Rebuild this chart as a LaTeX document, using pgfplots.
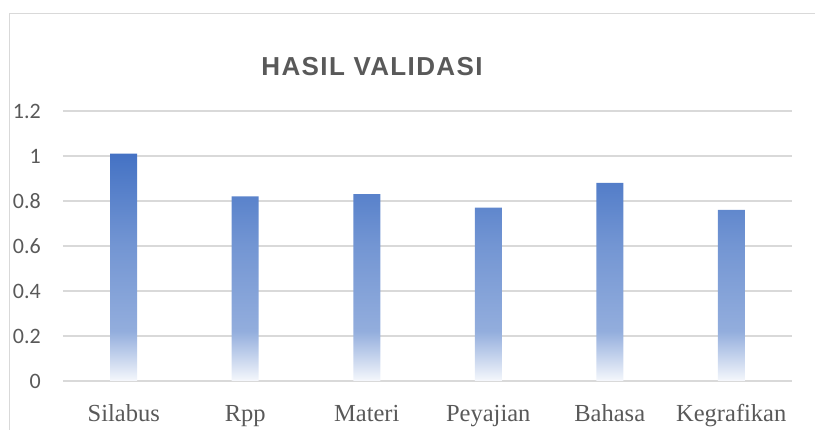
\documentclass[border=0pt]{standalone}
\usepackage{fontspec}
\usepackage{pgfplots}
\pgfplotsset{compat=1.18}
\newfontfamily\carlito{Carlito}
\newfontfamily\tnr{Liberation Serif}
\newfontfamily\titlefont[LetterSpace=5.3]{Liberation Sans}
\definecolor{txtgray}{HTML}{595959}
\definecolor{gridgray}{HTML}{D9D9D9}
\definecolor{barblue}{HTML}{4472C4}
\pgfdeclareverticalshading{barshade}{100bp}{%
  color(0bp)=(white);
  color(25bp)=(white!95!barblue);
  color(29bp)=(white!75!barblue);
  color(36bp)=(white!42!barblue);
  color(55bp)=(white!25!barblue);
  color(75bp)=(barblue);
  color(100bp)=(barblue)}
\begin{document}
\begin{tikzpicture}
\path[use as bounding box] (0,0) rectangle (815pt,430pt);
\draw[gridgray, line width=1.5pt] (9.5pt,0) -- (9.5pt,416.5pt) -- (815pt,416.5pt);
\node[anchor=base, inner sep=0pt, text=txtgray, font=\titlefont\bfseries\fontsize{26}{26}\selectfont] at (372pt,354.3pt) {HASIL VALIDASI};
\begin{axis}[
  at={(63pt,49pt)}, anchor=south west,
  scale only axis, width=729pt, height=270pt,
  xmin=-0.5, xmax=5.5, ymin=0, ymax=1.2,
  ytick={0,0.2,0.4,0.6,0.8,1,1.2},
  xtick={0,1,2,3,4,5},
  xticklabels={Silabus,Rpp,Materi,Peyajian,Bahasa,Kegrafikan},
  axis line style={draw=none},
  major tick length=0pt,
  ymajorgrids,
  grid style={gridgray, line width=1.5pt},
  /pgf/number format/assume math mode=true,
  yticklabel style={font=\carlito\fontsize{22}{22}\selectfont, text=txtgray, anchor=east, inner sep=0pt, xshift=-22pt},
  xticklabel style={font=\tnr\fontsize{24.5}{24.5}\selectfont, text=txtgray, anchor=north, inner sep=0pt, text height=17pt, text depth=5pt, yshift=-23pt},
  clip=false,
]
\addplot[ybar, bar width=27pt, draw=none, shading=barshade] coordinates {
  (0,1.01) (1,0.82) (2,0.83) (3,0.77) (4,0.88) (5,0.76)
};
\end{axis}
\end{tikzpicture}
\end{document}
